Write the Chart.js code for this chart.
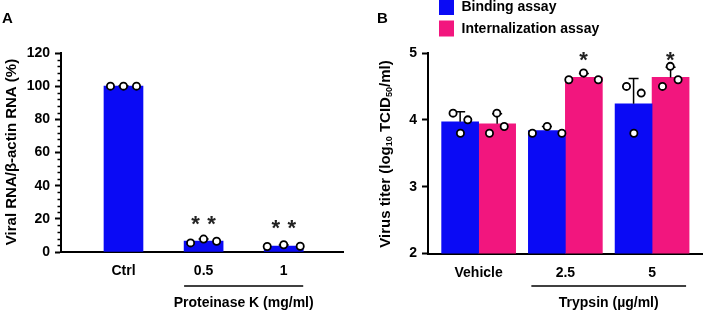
<!DOCTYPE html>
<html>
<head>
<meta charset="utf-8">
<script src="https://cdn.jsdelivr.net/npm/chart.js@4.4.1/dist/chart.umd.min.js"></script>
<style>
  body { margin: 0; background: #fff; }
  #wrap { position: relative; width: 708px; height: 310px; }
  canvas { position: absolute; top: 0; }
</style>
</head>
<body>
<div id="wrap">
  <canvas id="chartA" width="354" height="310" style="left:0"></canvas>
  <canvas id="chartB" width="354" height="310" style="left:354px"></canvas>
</div>
<script>
// panel A - proteinase K
const categoriesA = ['Ctrl', '0.5', '1'];
const rnaMeans = [100, 6.6, 3.6];
const rnaSD = [0.3, 1.2, 0.6];
const rnaPoints = [[100, 100, 100], [5.5, 7.8, 6.5], [3.3, 4.4, 3.5]];
const rnaStars = ['', '**', '**'];
const rnaStarLevel = [null, 20, 17.5];
const ticksA = [0, 20, 40, 60, 80, 100, 120];

// panel B - trypsin
const categoriesB = ['Vehicle', '2.5', '5'];
const bindingMeans = [3.97, 3.84, 4.24];
const bindingSD = [0.15, 0.06, 0.38];
const bindingPoints = [[4.1, 3.8, 4.0], [3.8, 3.9, 3.8], [4.5, 3.8, 4.4]];
const internalMeans = [3.94, 4.635, 4.635];
const internalSD = [0.15, 0.06, 0.15];
const internalPoints = [[3.8, 4.1, 3.9], [4.6, 4.7, 4.6], [4.5, 4.8, 4.6]];
const internalStars = ['', '*', '*'];
const internalStarLevel = [null, 4.98, 4.98];
const ticksB = [2, 3, 4, 5];

const FONT = '"Liberation Sans", Arial, Helvetica, sans-serif';
const BLUE = '#0a0af5';
const PINK = '#f2167e';
const bold = size => ({ family: FONT, size, weight: 'bold' });

// spread the replicate dots sideways around their bar
const replicates = (groups, shift, spread) => groups.flatMap((vals, i) =>
  vals.map((v, j) => ({ x: i + shift + (j - 1) * spread[i], y: v })));

const dots = {
  type: 'scatter',
  pointRadius: 3.6,
  pointBorderWidth: 1.8,
  pointBackgroundColor: '#fff',
  pointBorderColor: '#000',
  order: 1
};

const xAxis = (labels, min, max) => ({
  type: 'linear', min, max, offset: false,
  grid: { display: false, drawTicks: false },
  border: { display: true, color: '#000', width: 2 },
  afterBuildTicks: s => { s.ticks = labels.map((_, i) => ({ value: i })); },
  afterFit: s => { s.height = 30; },
  ticks: { autoSkip: false, maxRotation: 0, padding: 11, color: '#000', font: bold(14),
           callback: v => labels[v] }
});

const yAxis = (min, max, ticks, width) => ({
  min, max,
  afterBuildTicks: s => { s.ticks = ticks.map(v => ({ value: v })); },
  afterFit: s => { s.width = width; },
  grid: { display: true, drawOnChartArea: false, drawTicks: true, tickLength: 6, tickWidth: 2, tickColor: '#000' },
  border: { display: true, color: '#000', width: 2 },
  ticks: { padding: 5, color: '#000', font: bold(14) }
});

function makeDeco(cfg) {
  return {
    id: 'deco',
    afterDatasetDraw(chart, args) {
      const ds = chart.data.datasets[args.index];
      if (!ds.sd) return;
      const y = chart.scales.y, ctx = chart.ctx;
      ctx.save();
      ctx.strokeStyle = '#000';
      ctx.lineWidth = 1.5;
      args.meta.data.forEach((bar, i) => {
        const top = y.getPixelForValue(ds.data[i].y + ds.sd[i]);
        ctx.beginPath();
        ctx.moveTo(bar.x, bar.y);
        ctx.lineTo(bar.x, top);
        ctx.moveTo(bar.x - 5, top);
        ctx.lineTo(bar.x + 5, top);
        ctx.stroke();
      });
      ctx.restore();
    },
    afterDraw(chart) {
      const ctx = chart.ctx, x = chart.scales.x, y = chart.scales.y;
      const area = chart.chartArea;
      ctx.save();
      ctx.fillStyle = '#000';
      ctx.strokeStyle = '#000';

      // panel letter
      ctx.font = `bold 15px ${FONT}`;
      ctx.textAlign = 'left';
      ctx.textBaseline = 'middle';
      ctx.fillText(cfg.letter, cfg.letterX, 19);

      // minor ticks
      if (cfg.minorStep) {
        ctx.lineWidth = 1.5;
        for (let v = y.min; v <= y.max; v += cfg.minorStep) {
          if (v % cfg.majorStep === 0) continue;
          const py = Math.round(y.getPixelForValue(v)) + 0.5;
          ctx.beginPath();
          ctx.moveTo(area.left - 3.5, py);
          ctx.lineTo(area.left, py);
          ctx.stroke();
        }
      }

      // y title with optional subscripts
      ctx.save();
      ctx.translate(cfg.titleX, cfg.titleY);
      ctx.rotate(-Math.PI / 2);
      ctx.textBaseline = 'middle';
      ctx.textAlign = 'left';
      const parts = cfg.title.map(p => {
        ctx.font = `bold ${p.sub ? 9 : 15}px ${FONT}`;
        return { ...p, w: ctx.measureText(p.t).width };
      });
      let cx = -parts.reduce((s, p) => s + p.w, 0) / 2;
      parts.forEach(p => {
        ctx.font = `bold ${p.sub ? 9 : 15}px ${FONT}`;
        ctx.fillText(p.t, cx, p.sub ? 4 : 0);
        cx += p.w;
      });
      ctx.restore();

      // significance stars
      ctx.font = `bold 22px ${FONT}`;
      ctx.textAlign = 'center';
      ctx.textBaseline = 'alphabetic';
      ctx.fillStyle = '#222';
      cfg.stars.forEach((s, i) => {
        if (!s) return;
        const px = x.getPixelForValue(i + cfg.starShift);
        const py = y.getPixelForValue(cfg.starLevel[i]) + 12.5;
        [...s].forEach((c, k) => ctx.fillText(c, px + (k - (s.length - 1) / 2) * 16, py));
      });
      ctx.fillStyle = '#000';

      // bracket under the treated groups
      const x0 = x.getPixelForValue(1) - cfg.halfGroup + cfg.bracketInset;
      const x1 = x.getPixelForValue(2) + cfg.halfGroup - cfg.bracketInset;
      ctx.lineWidth = 1.5;
      ctx.beginPath();
      ctx.moveTo(x0, 286);
      ctx.lineTo(x1, 286);
      ctx.stroke();
      ctx.font = `bold 14px ${FONT}`;
      ctx.textBaseline = 'middle';
      ctx.fillText(cfg.bracketLabel, (x0 + x1) / 2, 303);

      // legend
      if (cfg.legend) {
        ctx.textAlign = 'left';
        chart.data.datasets.filter(d => d.label).forEach((d, k) => {
          const top = -1 + k * 21.5;
          ctx.fillStyle = d.backgroundColor;
          ctx.fillRect(85, top, 15, 16);
          ctx.fillStyle = '#000';
          ctx.fillText(d.label, 107.5, top + 8.5);
        });
      }
      ctx.restore();
    }
  };
}

const baseOptions = (padding, xs, ys) => ({
  responsive: false,
  animation: false,
  layout: { padding },
  plugins: { legend: { display: false }, tooltip: { enabled: false } },
  scales: { x: xs, y: ys }
});

new Chart(document.getElementById('chartA'), {
  type: 'bar',
  data: {
    datasets: [
      { ...dots, data: replicates(rnaPoints, 0, [0.1625, 0.1625, 0.206]) },
      { label: '', data: rnaMeans.map((v, i) => ({ x: i, y: v })), sd: rnaSD,
        backgroundColor: BLUE, barThickness: 39, order: 2 }
    ]
  },
  options: baseOptions({ top: 53, right: 11, bottom: 28, left: 0 },
    xAxis(categoriesA, -0.78, 2.74), yAxis(0, 120, ticksA, 61)),
  plugins: [makeDeco({
    letter: 'A', letterX: 2,
    minorStep: 4, majorStep: 20,
    title: [{ t: 'Viral RNA/β-actin RNA (%)' }], titleX: 12, titleY: 152,
    stars: rnaStars, starLevel: rnaStarLevel, starShift: 0,
    halfGroup: 19.5, bracketInset: 0, bracketLabel: 'Proteinase K (mg/ml)'
  })]
});

new Chart(document.getElementById('chartB'), {
  type: 'bar',
  data: {
    datasets: [
      { ...dots, data: replicates(bindingPoints, -0.21, [0.085, 0.17, 0.085]) },
      { ...dots, data: replicates(internalPoints, 0.21, [0.085, 0.17, 0.09]) },
      { label: 'Binding assay', data: bindingMeans.map((v, i) => ({ x: i, y: v })), sd: bindingSD,
        backgroundColor: BLUE, barThickness: 37, order: 2 },
      { label: 'Internalization assay', data: internalMeans.map((v, i) => ({ x: i, y: v })), sd: internalSD,
        backgroundColor: PINK, barThickness: 37, order: 2 }
    ]
  },
  options: baseOptions({ top: 53, right: 1, bottom: 26.5, left: 0 },
    xAxis(categoriesB, -0.584, 2.578), yAxis(2, 5, ticksB, 74)),
  plugins: [makeDeco({
    letter: 'B', letterX: 23,
    title: [{ t: 'Virus titer (log' }, { t: '10', sub: true }, { t: ' TCID' }, { t: '50', sub: true }, { t: '/ml)' }],
    titleX: 32, titleY: 154,
    stars: internalStars, starLevel: internalStarLevel, starShift: 0.21,
    halfGroup: 37, bracketInset: 3, bracketLabel: 'Trypsin (µg/ml)',
    legend: true
  })]
});
</script>
</body>
</html>
